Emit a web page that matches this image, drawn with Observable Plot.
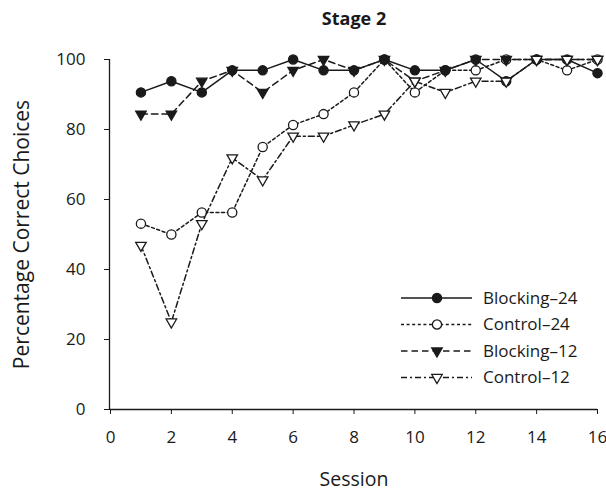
<!DOCTYPE html>
<html>
<head>
<meta charset="utf-8">
<script src="https://cdn.jsdelivr.net/npm/d3@7"></script>
<script src="https://cdn.jsdelivr.net/npm/@observablehq/plot@0.6"></script>
<style>
  html, body { margin: 0; padding: 0; background: #fff; }
  #wrap { position: relative; width: 606px; height: 493px; font-family: "Open Sans", sans-serif; }
  #legend { position: absolute; left: 0; top: 0; pointer-events: none; }
</style>
</head>
<body>
<div id="wrap"></div>
<script>
// ---- data ----
const sessions   = [1, 2, 3, 4, 5, 6, 7, 8, 9, 10, 11, 12, 13, 14, 15, 16];
const blocking24 = [90.6, 93.8, 90.6, 96.9, 96.9, 100, 96.9, 96.9, 100, 96.9, 96.9, 100, 93.8, 100, 100, 96.1];
const control24  = [53.1, 50.0, 56.3, 56.3, 75.0, 81.3, 84.4, 90.6, 100, 90.6, 96.9, 96.9, 100, 100, 96.9, 100];
const blocking12 = [84.4, 84.4, 93.8, 96.9, 90.6, 96.9, 100, 96.9, 100, 93.8, 96.9, 100, 100, 100, 100, 100];
const control12  = [46.9, 25.0, 53.1, 71.9, 65.6, 78.1, 78.1, 81.3, 84.4, 93.8, 90.6, 93.8, 93.8, 100, 100, 100];
const xTicks = [0, 2, 4, 6, 8, 10, 12, 14, 16];
const yTicks = [0, 20, 40, 60, 80, 100];
const seriesNames = ["Blocking–24", "Control–24", "Blocking–12", "Control–12"];
const titleText = "Stage 2";
const xLabel = "Session";
const yLabel = "Percentage Correct Choices";

const ink = "#1a1a1a";
const styles = {
  "Blocking–24": {values: blocking24, dash: null,      symbol: "circle",   fill: ink,     rotate: 0,   r: 4.6},
  "Control–24":  {values: control24,  dash: "3,2.6",   symbol: "circle",   fill: "#fff",  rotate: 0,   r: 4.6},
  "Blocking–12": {values: blocking12, dash: "6.5,4",   symbol: "triangle", fill: ink,     rotate: 180, r: 3.9},
  "Control–12":  {values: control12,  dash: "6,3,2,3", symbol: "triangle", fill: "#fff",  rotate: 180, r: 3.9}
};
const drawOrder = ["Control–24", "Blocking–12", "Blocking–24", "Control–12"];

const seriesMarks = drawOrder.flatMap(name => {
  const s = styles[name];
  const rows = sessions.map((session, i) => ({session, value: s.values[i], series: name}));
  return [
    Plot.line(rows, {x: "session", y: "value", stroke: ink, strokeWidth: 1.5,
      strokeDasharray: s.dash ?? undefined}),
    Plot.dot(rows, {x: "session", y: "value", symbol: s.symbol, r: s.r, fill: s.fill,
      stroke: ink, strokeWidth: 1.3, rotate: s.rotate})
  ];
});

const chart = Plot.plot({
  width: 606,
  height: 493,
  marginLeft: 110,
  marginRight: 9,
  marginTop: 59,
  marginBottom: 84,
  style: {fontFamily: "Open Sans, sans-serif", fontSize: "17px", color: ink, background: "#fff"},
  x: {domain: [0, 16]},
  y: {domain: [0, 100]},
  marks: [
    Plot.axisX({ticks: xTicks, tickSize: 5, tickPadding: 16, label: null}),
    Plot.axisY({ticks: yTicks, tickSize: 6, tickPadding: 19, label: null}),
    Plot.ruleY([0], {stroke: ink, strokeWidth: 1.3}),
    Plot.ruleX([0], {stroke: ink, strokeWidth: 1.3, dx: -1}),
    ...seriesMarks,
    Plot.text([titleText], {frameAnchor: "top", dy: -40, lineAnchor: "middle", textAnchor: "middle",
      fontWeight: "bold", fontSize: 18, fill: ink}),
    Plot.text([xLabel], {frameAnchor: "bottom", dy: 70, lineAnchor: "middle", textAnchor: "middle",
      fontSize: 19.5, fill: ink}),
    Plot.text([yLabel], {frameAnchor: "left", dx: -88, rotate: -90, lineAnchor: "middle",
      textAnchor: "middle", fontSize: 21, fill: ink})
  ]
});
document.getElementById("wrap").appendChild(chart);

// ---- legend overlay ----
const leg = d3.select("#wrap").append("svg")
  .attr("id", "legend").attr("width", 606).attr("height", 493);
const legX0 = 401, legX1 = 472, legMarkX = 437, legTextX = 483, legY0 = 298, legStep = 26.5;
seriesNames.forEach((name, i) => {
  const s = styles[name];
  const y = legY0 + i * legStep;
  const g = leg.append("g");
  g.append("line").attr("x1", legX0).attr("x2", legX1).attr("y1", y).attr("y2", y)
    .attr("stroke", ink).attr("stroke-width", 1.5)
    .attr("stroke-dasharray", s.dash);
  const sym = s.symbol === "circle" ? d3.symbolCircle : d3.symbolTriangle;
  g.append("path").attr("d", d3.symbol(sym, Math.PI * s.r * s.r)())
    .attr("transform", `translate(${legMarkX},${y}) rotate(${s.rotate})`)
    .attr("fill", s.fill).attr("stroke", ink).attr("stroke-width", 1.3);
  g.append("text").attr("x", legTextX).attr("y", y).attr("dy", "0.35em")
    .attr("font-family", "Open Sans, sans-serif").attr("font-size", 17)
    .attr("fill", ink).text(name);
});
</script>
</body>
</html>
